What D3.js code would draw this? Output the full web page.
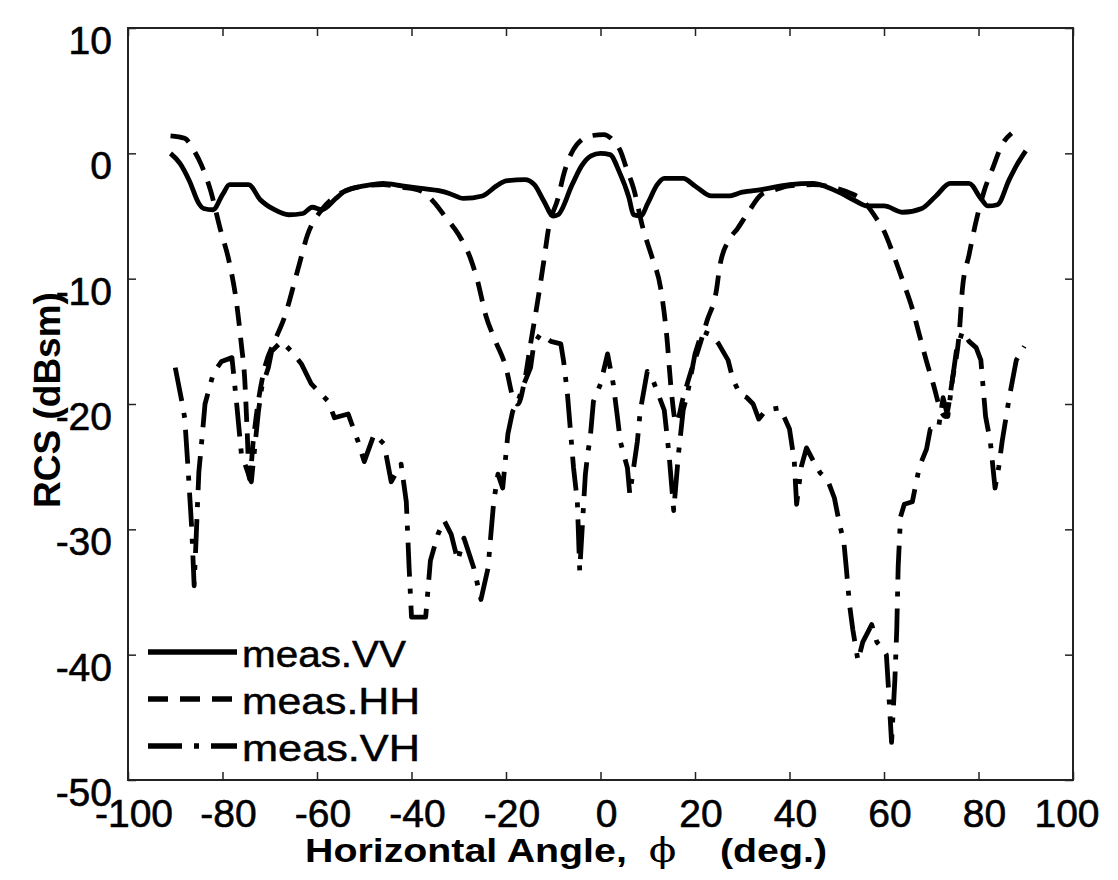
<!DOCTYPE html>
<html lang="en">
  <head>
    <meta charset="utf-8">
    <title>RCS vs horizontal angle</title>
    <script type="text/javascript" src="https://cdn.jsdelivr.net/npm/d3@7/dist/d3.min.js"></script>
    <style>
    body { margin: 0; background: #fff; }
    text { font-family: "Liberation Sans", Arial, sans-serif; fill: #000; white-space: pre; }
    </style>
  </head>
  <body>
    <script type="text/javascript">
      var vvAngle = [-91, -89, -87, -85, -84, -82, -80, -78.5, -74.5, -72, -69, -66, -63, -61, -59, -56, -54, -50, -46, -42, -38, -34, -32, -29, -25, -22, -20, -16, -14, -12, -10, -9, -6, -4, -2, 0, 2, 4, 6, 7, 8.5, 10, 12, 13.5, 17.5, 20, 23.5, 27, 30, 34, 40, 45, 48, 51, 54, 56.5, 60, 64, 68, 71, 74, 78, 80.5, 82, 84, 86.5, 88, 90];
      var vvRcs = [0, -0.8, -2.2, -4.0, -4.4, -4.5, -3.3, -2.5, -2.5, -3.7, -4.5, -4.9, -4.8, -4.3, -4.5, -3.6, -3.0, -2.6, -2.4, -2.6, -2.8, -3.0, -3.2, -3.6, -3.4, -2.6, -2.2, -2.1, -2.5, -3.8, -5.0, -4.9, -2.5, -1.0, -0.2, 0, -0.1, -1.5, -3.5, -4.9, -5.0, -4.0, -2.5, -2.0, -2.0, -2.6, -3.4, -3.4, -3.1, -2.9, -2.5, -2.4, -2.7, -3.2, -3.8, -4.2, -4.2, -4.7, -4.4, -3.4, -2.4, -2.4, -3.6, -4.2, -4.1, -2.1, -1.0, 0.2];

      var hhAngle = [-91, -88, -86, -84.5, -82.5, -80.5, -78.5, -77, -76, -75.3, -74.8, -74.3, -73.5, -72.5, -71, -69, -67, -64, -62, -59, -56, -54, -50, -46, -42, -38, -35, -33, -30, -27.5, -26, -24.3, -22.2, -20, -18.5, -17.5, -16, -14.8, -13.3, -12, -11, -9, -7.8, -5, -2, 0.7, 2.5, 4.2, 5.5, 7, 9, 11, 12.7, 14, 15, 16, 17.5, 19.5, 20.4, 22.6, 24.5, 25.3, 27.4, 29, 31.6, 34, 37, 40, 45, 50, 53, 55, 58.4, 60, 62, 64, 66, 67.5, 69, 70.5, 72, 73, 74.5, 76, 76.6, 78, 79.5, 81.2, 83, 85, 87];
      var hhRcs = [1.4, 1.2, 0.2, -0.9, -3.0, -6.0, -8.8, -12, -15.3, -18, -22, -26, -23, -20, -17, -15, -13.2, -9.2, -6.5, -4.5, -3.4, -3.0, -2.6, -2.5, -2.7, -3.0, -4.0, -5.0, -6.5, -8.4, -10.2, -12.9, -15, -17.1, -19.5, -20, -18, -15.2, -11.8, -8.6, -6, -3.6, -1.7, 0.7, 1.4, 1.5, 1.1, 0.2, -1.2, -2.8, -6, -8.4, -10.7, -14.5, -19, -21.5, -19.5, -17, -16, -13.3, -11, -8.9, -6.8, -6.0, -4.5, -3.3, -2.9, -2.6, -2.5, -2.8, -3.2, -3.6, -5.2, -6.2, -8.1, -10.2, -12.4, -14.5, -16.6, -18.5, -20.5, -21, -18, -14, -10.8, -8.1, -5.4, -3.0, -1.2, 0.7, 1.6];

      var vhAngle = [-90, -88.6, -88, -87.3, -86.5, -86, -85, -84.4, -83.7, -81.9, -80.2, -78, -77, -76, -74.5, -73.9, -72.4, -71.7, -70.3, -69.6, -67.5, -65.4, -63.3, -61.2, -57.6, -56.3, -53.4, -51.3, -50, -47.9, -45.8, -44.3, -42.2, -41.1, -40.5, -40, -37, -36, -34.4, -33.1, -31.6, -30.2, -28.9, -26.8, -25.3, -23.8, -23.2, -22.6, -21.7, -20.7, -19.6, -18.6, -17.5, -16.2, -14.8, -14.1, -12.7, -10.5, -8.4, -7.8, -7, -6.3, -5.7, -4.9, -4.4, -3.2, -2.7, -2.1, -1.5, 0, 1.5, 2.7, 3.6, 4.2, 5.7, 6.2, 7.8, 8.4, 9.9, 11.2, 12.5, 13.5, 14.5, 15.5, 16.5, 17.5, 18.5, 20, 21.5, 23.5, 25, 27, 28, 29.5, 31, 32.3, 33.5, 35, 38, 40, 41, 41.5, 42.5, 43.6, 45, 46.5, 48, 49.5, 50.6, 51.5, 52, 52.7, 53.4, 54.5, 55.5, 57.4, 58.5, 59.7, 60.5, 61, 61.6, 62.3, 62.7, 63, 63.5, 64.3, 66, 67.5, 69, 69.8, 71.5, 72.5, 73.5, 74.5, 75.3, 76.6, 78, 79.5, 80.5, 81.5, 82.5, 83.5, 84.3, 85, 86.5, 88, 89.7];
      var vhRcs = [-17.1, -19.8, -21.1, -25.1, -30, -34.5, -25.4, -23, -20, -17.5, -16.6, -16.3, -20, -24, -25.6, -26.2, -20.6, -18.7, -17.1, -15.8, -15, -15.8, -16.8, -18.4, -19.8, -21.1, -20.8, -23, -24.6, -22.4, -23.2, -26.2, -24.8, -27.8, -33.1, -37, -37, -32.5, -30.4, -29.3, -30.4, -32.5, -30.7, -33.1, -35.6, -33.1, -30.4, -27.8, -25.6, -26.7, -22.4, -20.6, -19.8, -18.4, -17.1, -15.2, -14.4, -15, -15.2, -16.6, -19.2, -22.4, -25.1, -27.8, -33.3, -25.6, -24, -22.4, -19.8, -18.4, -16, -18.4, -21.1, -23, -25.1, -27.2, -23, -20.6, -17.4, -18.2, -19.5, -20.5, -24, -28.5, -24, -20.5, -19, -16, -14.2, -14.5, -15.2, -16.5, -18, -19.2, -19.5, -20, -21.2, -20.5, -20.3, -22, -24.5, -28, -25, -23.5, -24.5, -25.5, -26, -27.5, -29.6, -31, -33, -36, -38, -40.5, -39, -37.6, -39, -39.5, -40, -43, -47, -42, -38, -33, -29, -28, -27.8, -25, -23.6, -22, -22, -19.5, -21, -18, -15.8, -14.2, -15, -15.5, -16.5, -21, -23, -26.7, -25, -23, -19.5, -16.5, -15.4];

      var xTicks = [-100, -80, -60, -40, -20, 0, 20, 40, 60, 80, 100];
      var yTicks = [10, 0, -10, -20, -30, -40, -50];
      var legendLabels = ["meas.VV", "meas.HH", "meas.VH"];

      var w = 1118;
      var h = 880;
      var plotLeft = 128, plotRight = 1073, plotTop = 28, plotBottom = 780;

      var svg = d3.select("body")
                  .append("svg")
                  .attr("width", w)
                  .attr("height", h);

      var x = d3.scaleLinear().domain([-100, 100]).range([plotLeft, plotRight]);
      var y = d3.scaleLinear().domain([-50, 10]).range([plotBottom, plotTop]);

      // axes box with inward ticks, matlab style
      svg.append("rect")
         .attr("x", plotLeft)
         .attr("y", plotTop)
         .attr("width", plotRight - plotLeft)
         .attr("height", plotBottom - plotTop)
         .attr("fill", "none")
         .attr("stroke", "#222")
         .attr("stroke-width", 2);

      var tickLen = 8;
      svg.append("g")
         .attr("transform", "translate(0," + plotBottom + ")")
         .call(d3.axisBottom(x).tickValues(xTicks).tickSize(-tickLen).tickFormat(""))
         .call(function(g) { g.select(".domain").remove(); });
      svg.append("g")
         .attr("transform", "translate(0," + plotTop + ")")
         .call(d3.axisTop(x).tickValues(xTicks).tickSize(-tickLen).tickFormat(""))
         .call(function(g) { g.select(".domain").remove(); });
      svg.append("g")
         .attr("transform", "translate(" + plotLeft + ",0)")
         .call(d3.axisLeft(y).tickValues(yTicks).tickSize(-tickLen).tickFormat(""))
         .call(function(g) { g.select(".domain").remove(); });
      svg.append("g")
         .attr("transform", "translate(" + plotRight + ",0)")
         .call(d3.axisRight(y).tickValues(yTicks).tickSize(-tickLen).tickFormat(""))
         .call(function(g) { g.select(".domain").remove(); });
      svg.selectAll(".tick line").attr("stroke", "#222").attr("stroke-width", 1.5);

      // tick labels
      svg.selectAll("text.xlab")
         .data(xTicks)
         .enter()
         .append("text")
         .attr("class", "xlab")
         .attr("x", function(d) { return d === 100 ? x(d) - 6 : x(d) + 6; })
         .attr("y", 827)
         .attr("text-anchor", "middle")
         .attr("font-size", "39px")
         .attr("stroke", "#000")
         .attr("stroke-width", 0.6)
         .text(function(d) { return d; });

      svg.selectAll("text.ylab")
         .data(yTicks)
         .enter()
         .append("text")
         .attr("class", "ylab")
         .attr("x", 112)
         .attr("y", function(d) { return y(d) + 26; })
         .attr("text-anchor", "end")
         .attr("font-size", "39px")
         .attr("stroke", "#000")
         .attr("stroke-width", 0.6)
         .text(function(d) { return d; });

      // axis titles
      var xTitle = svg.append("text")
         .attr("x", 566)
         .attr("y", 862)
         .attr("text-anchor", "middle")
         .attr("font-size", "33px")
         .attr("font-weight", "bold")
         .attr("textLength", 522)
         .attr("lengthAdjust", "spacingAndGlyphs");
      xTitle.append("tspan").text("Horizontal Angle,  ");
      xTitle.append("tspan")
            .attr("font-family", "'DejaVu Serif', 'Liberation Serif', serif")
            .attr("font-weight", "normal")
            .attr("font-size", "34px")
            .text("\u03D5");
      xTitle.append("tspan").text("    (deg.)");

      svg.append("text")
         .attr("transform", "translate(60,400) rotate(-90)")
         .attr("text-anchor", "middle")
         .attr("font-size", "37px")
         .attr("font-weight", "bold")
         .text("RCS (dBsm)");

      // curves
      var series = [
        {angle: vvAngle, rcs: vvRcs, dash: null, curve: d3.curveMonotoneX},
        {angle: hhAngle, rcs: hhRcs, dash: "20,12", curve: d3.curveMonotoneX},
        {angle: vhAngle, rcs: vhRcs, dash: "34,12,5,12", curve: d3.curveLinear}
      ];

      var plot = svg.append("g");
      series.forEach(function(s) {
        var pts = s.angle.map(function(a, i) { return [a, s.rcs[i]]; });
        var line = d3.line()
                     .x(function(d) { return x(d[0]); })
                     .y(function(d) { return y(d[1]); })
                     .curve(s.curve);
        plot.append("path")
            .datum(pts)
            .attr("d", line)
            .attr("fill", "none")
            .attr("stroke", "#000")
            .attr("stroke-width", 4.8)
            .attr("stroke-linejoin", "round")
            .attr("stroke-dasharray", s.dash);
      });

      // legend (no visible box)
      var legend = svg.append("g");
      legend.selectAll("line")
            .data(series)
            .enter()
            .append("line")
            .attr("x1", 148)
            .attr("x2", 237)
            .attr("y1", function(d, i) { return 652 + i * 47; })
            .attr("y2", function(d, i) { return 652 + i * 47; })
            .attr("stroke", "#000")
            .attr("stroke-width", 5.5)
            .attr("stroke-dasharray", function(d) { return d.dash; });
      legend.selectAll("text")
            .data(legendLabels)
            .enter()
            .append("text")
            .attr("x", 242)
            .attr("y", function(d, i) { return 667 + i * 47; })
            .attr("font-size", "37px")
            .attr("stroke", "#000")
            .attr("stroke-width", 0.5)
            .attr("textLength", function(d) { return d === "meas.VV" ? 164 : 178; })
            .attr("lengthAdjust", "spacingAndGlyphs")
            .text(function(d) { return d; });
    </script>
  </body>
</html>
